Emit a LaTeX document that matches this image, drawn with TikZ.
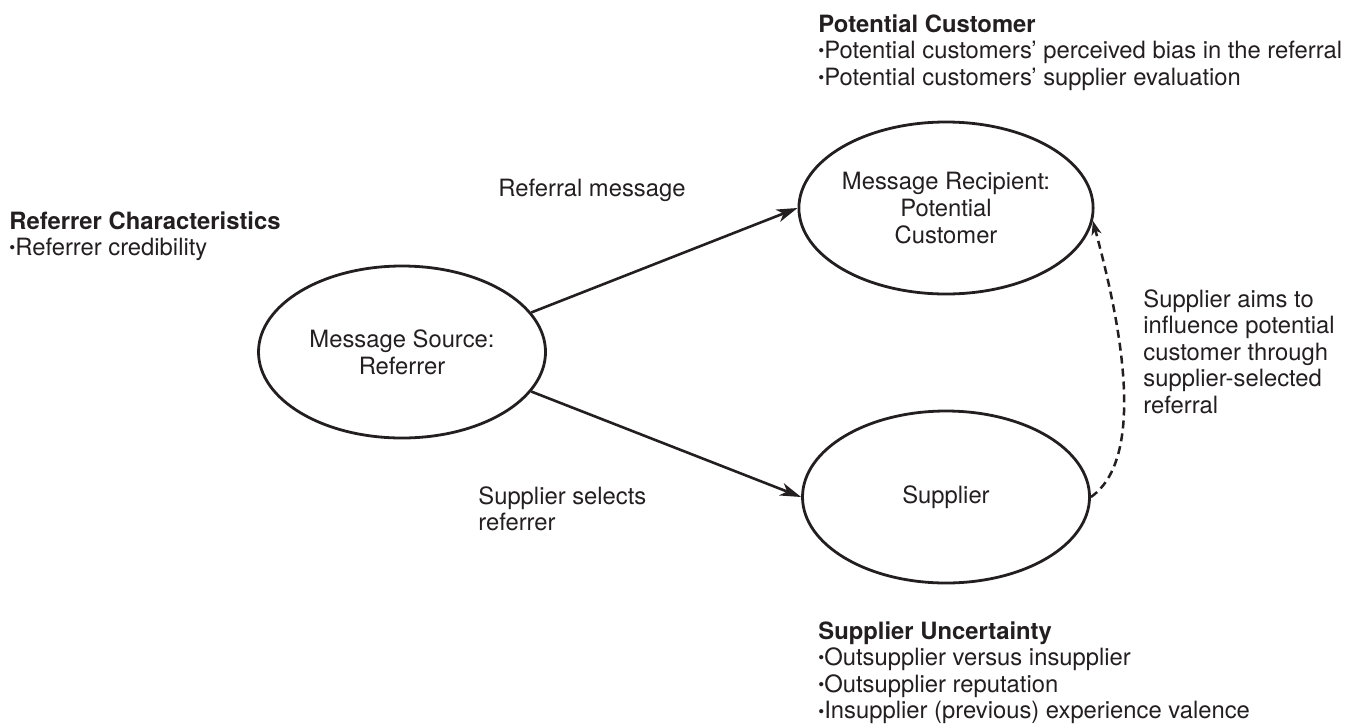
\documentclass[tikz,border=0pt]{standalone}
\usepackage{fontspec}
\setmainfont{TeX Gyre Heros}
\usetikzlibrary{arrows.meta,shapes.geometric}
\definecolor{ink}{RGB}{35,31,32}
\newcommand{\dotitem}{\raisebox{0.9pt}{\fontsize{8.5}{8.5}\selectfont•}}
\begin{document}
\begin{tikzpicture}[x=0.5pt,y=-0.5pt,
  every node/.style={font=\fontsize{11.9}{13.3}\selectfont,text=ink,inner sep=0pt},
  oval/.style={ellipse,draw=ink,line width=1.4pt,minimum width=143.5pt,minimum height=86pt,align=center},
  note/.style={anchor=north west,align=left},
  link/.style={draw=ink,line width=1.3pt,-{Stealth[length=10.5pt,width=6.5pt,inset=3pt]}}]
 \useasboundingbox (0,0) rectangle (1352,723);

 \node[oval] (source) at (402,352) {Message Source:\\Referrer};
 \node[oval] (recipient) at (946,208) {Message Recipient:\\Potential\\Customer};
 \node[oval] (supplier) at (946,497) {Supplier};

 \path[link] (source.17) -- (recipient.west);
 \path[link] (source.-17) -- (supplier.west);
 \draw[ink,line width=1.25pt,dash pattern=on 4pt off 2.5pt,
   -{Stealth[length=7pt,width=5pt,inset=2pt]}]
   (supplier.east) to[out=35,in=-75,looseness=0.7] (recipient.-5);

 \node[note] (msglabel) at (498,179) {Referral message};
 \node[note] (selectlabel) at (478,486) {Supplier selects\\referrer};
 \node[note] (aimlabel) at (1143,289) {Supplier aims to\\influence potential\\customer through\\supplier-selected\\referral};

 \node[note] (referrerbox) at (9,211) {\textbf{Referrer Characteristics}\\
   \dotitem Referrer credibility};
 \node[note] (customerbox) at (818,14) {\textbf{Potential Customer}\\
   \dotitem Potential customers’ perceived bias in the referral\\
   \dotitem Potential customers’ supplier evaluation};
 \node[note] (uncertaintybox) at (818,621) {\textbf{Supplier Uncertainty}\\
   \dotitem Outsupplier versus insupplier\\
   \dotitem Outsupplier reputation\\
   \dotitem Insupplier (previous) experience valence};
\end{tikzpicture}
\end{document}
